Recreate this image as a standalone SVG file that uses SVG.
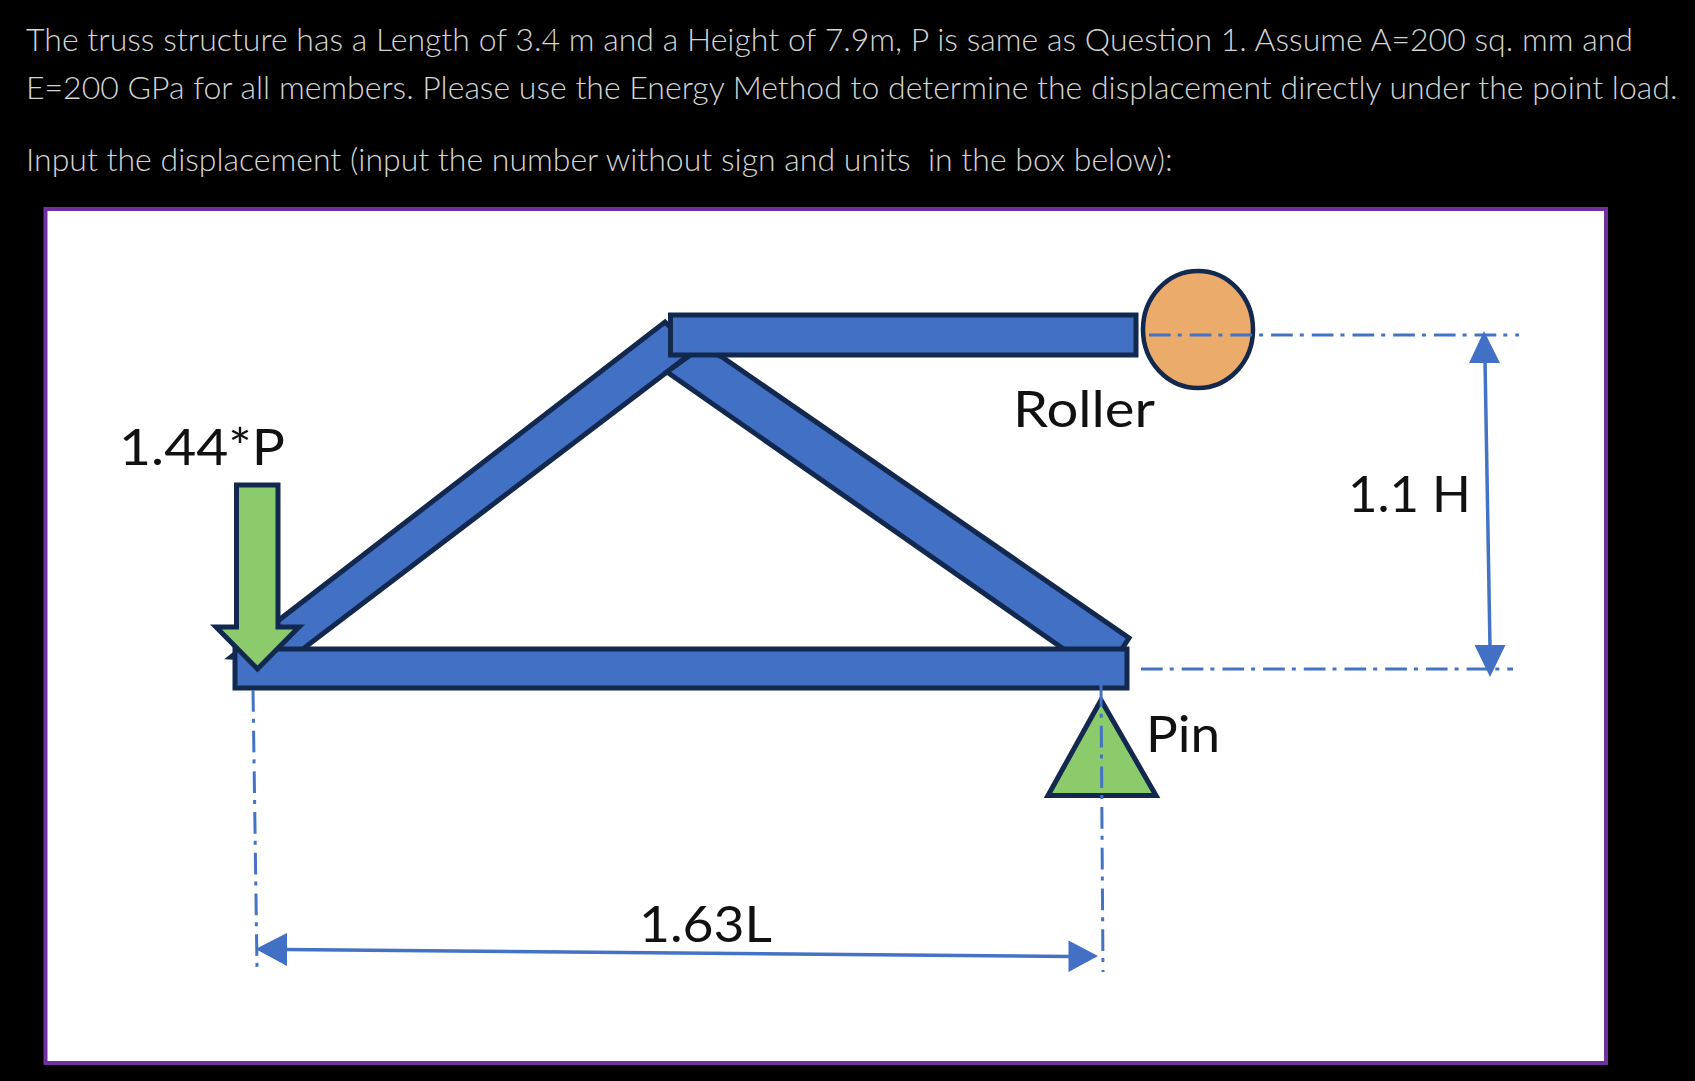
<svg xmlns="http://www.w3.org/2000/svg" width="1695" height="1081" viewBox="0 0 1695 1081">
<defs>
<style>
.q{font-family:"Lato","Liberation Sans",sans-serif;font-weight:300;font-size:32px;fill:#d4d4d4;white-space:pre}
.l{font-family:"Lato","Liberation Sans",sans-serif;font-size:51px;fill:#111}
.m{fill:#4270c4;stroke:#12284f;stroke-width:5;stroke-linejoin:miter}
.g{fill:#8bcb6b;stroke:#12284f;stroke-width:5}
.d{fill:none;stroke:#4472c4;stroke-width:3;stroke-dasharray:21.7 7 4 8}
.a{fill:none;stroke:#4472c4;stroke-width:3.5}
.h{fill:#4270c4}
</style>
</defs>
<rect width="1695" height="1081" fill="#000"/>
<g id="question">
<text class="q" x="26" y="51" textLength="1607">The truss structure has a Length of 3.4 m and a Height of 7.9m, P is same as Question 1. Assume A=200 sq. mm and</text>
<text class="q" x="26" y="99">E=200 GPa for all members. Please use the Energy Method to determine the displacement directly under the point load.</text>
<text class="q" x="26" y="171" xml:space="preserve">Input the displacement (input the number without sign and units  in the box below):</text>
</g>
<rect id="frame" x="45.500" y="209" width="1560.500" height="854" fill="#fff" stroke="#7030a0" stroke-width="4"/>
<g id="left-diagonal"><polygon class="m" points="231,657 665,322 694,351 667,372 308,645 290,660"/></g>
<g id="right-diagonal"><polygon class="m" points="667,372 700,348 722,357 1129,638 1120,652 1065,650"/></g>
<g id="top-chord"><rect class="m" x="670.500" y="315" width="465.500" height="40"/></g>
<g id="bottom-chord"><rect class="m" x="235" y="649" width="892" height="39"/></g>
<g id="roller"><ellipse cx="1198" cy="329.500" rx="55" ry="58.500" fill="#ebab6b" stroke="#12284f" stroke-width="4.500"/></g>
<g id="pin"><polygon class="g" points="1101,700 1156,795.500 1048,795.500"/></g>
<g id="load"><polygon class="g" points="236.500,485 278,485 278,627 299,627 257.500,669 216,627 236.500,627"/></g>
<g id="connectors">
<line class="d" x1="1149" y1="335" x2="1519" y2="335"/>
<line class="d" x1="1141" y1="669" x2="1513" y2="669"/>
<line class="d" x1="253" y1="690" x2="257" y2="967"/>
<line class="d" x1="1101" y1="685" x2="1103" y2="972"/>
<line class="a" x1="1485" y1="360" x2="1490" y2="647"/>
<polygon class="h" points="1484,331 1500,363 1469,363"/>
<polygon class="h" points="1490,677 1474.500,645 1505.500,645"/>
<line class="a" x1="285" y1="949.500" x2="1070" y2="956.500"/>
<polygon class="h" points="255.500,949 287,933 287,966"/>
<polygon class="h" points="1098,956 1068.500,940.500 1068.500,972"/>
</g>
<g id="labels">
<text class="l" x="119" y="464.500" textLength="166" lengthAdjust="spacingAndGlyphs">1.44*P</text>
<text class="l" x="1013" y="427" textLength="142" lengthAdjust="spacingAndGlyphs">Roller</text>
<text class="l" x="1348" y="512" textLength="123" lengthAdjust="spacingAndGlyphs">1.1 H</text>
<text class="l" x="1146" y="752" textLength="74" lengthAdjust="spacingAndGlyphs">Pin</text>
<text class="l" x="639" y="942" textLength="133" lengthAdjust="spacingAndGlyphs">1.63L</text>
</g>
</svg>
